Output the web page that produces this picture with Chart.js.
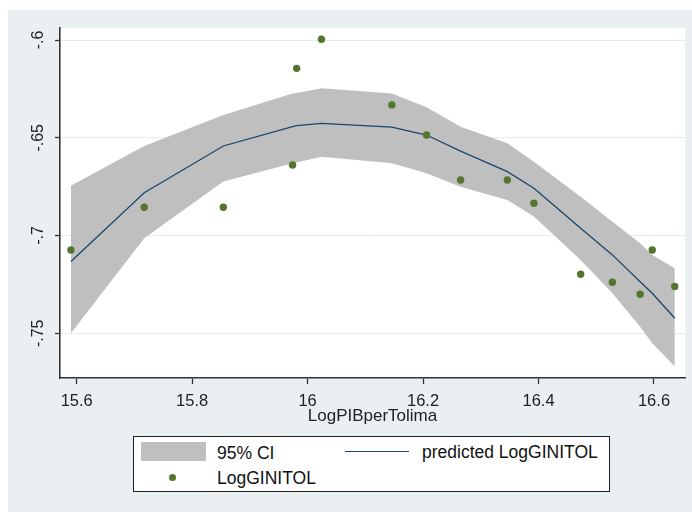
<!DOCTYPE html>
<html>
<head>
<meta charset="utf-8">
<script src="https://cdn.jsdelivr.net/npm/chart.js@4.4.1/dist/chart.umd.min.js"></script>
<style>
  html, body { margin: 0; padding: 0; background: #fff; }
  #wrap { position: relative; width: 692px; height: 512px; }
  #legend {
    position: absolute; left: 133px; top: 436px; width: 475px; height: 54px;
    border: 1.5px solid #222; background: #fff;
    font-family: Arial, "Liberation Sans", sans-serif; font-size: 17.5px; color: #111;
  }
  #legend .item { position: absolute; line-height: 20px; white-space: nowrap; }
  #legend .swatch { position: absolute; }
</style>
</head>
<body>
<div id="wrap">
  <canvas id="chart" width="692" height="512"></canvas>
  <div id="legend"></div>
</div>
<script>
// x values (LogPIBperTolima)
const logPIB = [15.590, 15.717, 15.854, 15.974, 15.981, 16.024, 16.146, 16.206,
                16.265, 16.346, 16.392, 16.473, 16.528, 16.576, 16.597, 16.636];
// observed LogGINITOL
const logGini = [-0.7074, -0.6855, -0.6855, -0.6639, -0.6145, -0.5996, -0.6332, -0.6486,
                 -0.6716, -0.6716, -0.6835, -0.7198, -0.7239, -0.7300, -0.7074, -0.7261];
// predicted LogGINITOL (quadratic fit)
const predicted = [-0.7133, -0.6781, -0.6542, -0.6443, -0.6438, -0.6426, -0.6446, -0.6486,
                   -0.6568, -0.6673, -0.6758, -0.6963, -0.7099, -0.7236, -0.7295, -0.7423];
// 95% CI bounds
const ciUpper = [-0.6745, -0.6542, -0.6383, -0.6273, -0.6271, -0.6247, -0.6273, -0.6344,
                 -0.6443, -0.6528, -0.6622, -0.6801, -0.6929, -0.7039, -0.7099, -0.7167];
const ciLower = [-0.7500, -0.7014, -0.6724, -0.6630, -0.6626, -0.6597, -0.6630, -0.6681,
                 -0.6750, -0.6818, -0.6903, -0.7125, -0.7295, -0.7466, -0.7551, -0.7670];

// tick labels
const xTickValues = [15.6, 15.8, 16.0, 16.2, 16.4, 16.6];
const xTickLabels = ['15.6', '15.8', '16', '16.2', '16.4', '16.6'];
const yTickValues = [-0.75, -0.7, -0.65, -0.6];
const yTickLabels = ['-.75', '-.7', '-.65', '-.6'];

const BG = '#eaf0f2';
const GRAY = '#bfbfbf';
const NAVY = '#1a476f';
const GREEN = '#55752f';
const FONT = 'Arial, "Liberation Sans", sans-serif';

const toXY = ys => logPIB.map((x, i) => ({ x: x, y: ys[i] }));

// background panel + white plot region
const panelBg = {
    id: 'panelBg',
    beforeDraw(chart) {
        const ctx = chart.ctx;
        const a = chart.chartArea;
        ctx.save();
        ctx.fillStyle = '#fff';
        ctx.fillRect(0, 0, chart.width, chart.height);
        ctx.fillStyle = BG;
        ctx.fillRect(8, 10, chart.width - 8, chart.height - 10);
        ctx.fillStyle = '#fff';
        ctx.fillRect(a.left, a.top, a.right - a.left, a.bottom - a.top);
        ctx.restore();
    }
};

const chart = new Chart(document.getElementById('chart'), {
    type: 'line',
    data: {
        datasets: [{
            label: 'LogGINITOL',
            data: toXY(logGini),
            showLine: false,
            pointRadius: 3.7,
            pointBackgroundColor: GREEN,
            pointBorderColor: GREEN,
            pointBorderWidth: 0,
            order: 1
        }, {
            label: 'predicted LogGINITOL',
            data: toXY(predicted),
            borderColor: NAVY,
            borderWidth: 1.3,
            pointRadius: 0,
            fill: false,
            order: 2
        }, {
            label: '95% CI',
            data: toXY(ciUpper),
            borderWidth: 0,
            borderColor: 'rgba(0,0,0,0)',
            backgroundColor: GRAY,
            pointRadius: 0,
            fill: '+1',
            order: 3
        }, {
            label: 'ci lower',
            data: toXY(ciLower),
            borderWidth: 0,
            borderColor: 'rgba(0,0,0,0)',
            pointRadius: 0,
            fill: false,
            order: 4
        }]
    },
    options: {
        responsive: false,
        animation: false,
        events: [],
        layout: { padding: { left: 8, top: 28, right: 7, bottom: 84 } },
        scales: {
            x: {
                type: 'linear',
                min: 15.5711,
                max: 16.6537,
                afterBuildTicks: s => { s.ticks = xTickValues.map(v => ({ value: v })); },
                afterFit: s => { s.height = 50; },
                ticks: {
                    color: '#222',
                    font: { family: FONT, size: 16.5 },
                    padding: 8,
                    maxRotation: 0,
                    callback: (v) => xTickLabels[xTickValues.indexOf(v)]
                },
                grid: { drawOnChartArea: false, tickLength: 6, tickColor: '#333', tickWidth: 1.3 },
                border: { color: '#333', width: 1.6 },
                title: {
                    display: true,
                    text: 'LogPIBperTolima',
                    color: '#222',
                    font: { family: FONT, size: 17 },
                    padding: { top: 0, bottom: 1 }
                }
            },
            y: {
                type: 'linear',
                min: -0.77286,
                max: -0.59386,
                afterBuildTicks: s => { s.ticks = yTickValues.map(v => ({ value: v })); },
                afterFit: s => { s.width = 52; },
                ticks: {
                    color: '#222',
                    font: { family: FONT, size: 16 },
                    padding: 3,
                    minRotation: 90,
                    maxRotation: 90,
                    crossAlign: 'center',
                    callback: (v) => yTickLabels[yTickValues.indexOf(v)]
                },
                grid: { color: '#e6ecee', lineWidth: 1, tickLength: 5, tickColor: '#333', tickWidth: 1.3 },
                border: { color: '#333', width: 1.6 }
            }
        },
        plugins: {
            legend: { display: false },
            tooltip: { enabled: false }
        }
    },
    plugins: [panelBg]
});

// legend box (Stata style, two columns)
const legend = document.getElementById('legend');
const addEl = (css, text) => {
    const el = document.createElement('div');
    el.style.cssText = css;
    if (text) { el.className = 'item'; el.textContent = text; }
    else { el.className = 'swatch'; }
    legend.appendChild(el);
};
const ds = chart.data.datasets;
addEl(`left:7px;top:5px;width:65px;height:19px;background:${GRAY};`);
addEl('left:83px;top:6px;', ds[2].label);
addEl(`left:211px;top:14px;width:64px;height:0;border-top:1.3px solid ${NAVY};`);
addEl('left:288px;top:5px;', ds[1].label);
addEl(`left:35px;top:36.5px;width:7.2px;height:7.2px;border-radius:50%;background:${GREEN};`);
addEl('left:83px;top:31px;', ds[0].label);
</script>
</body>
</html>
